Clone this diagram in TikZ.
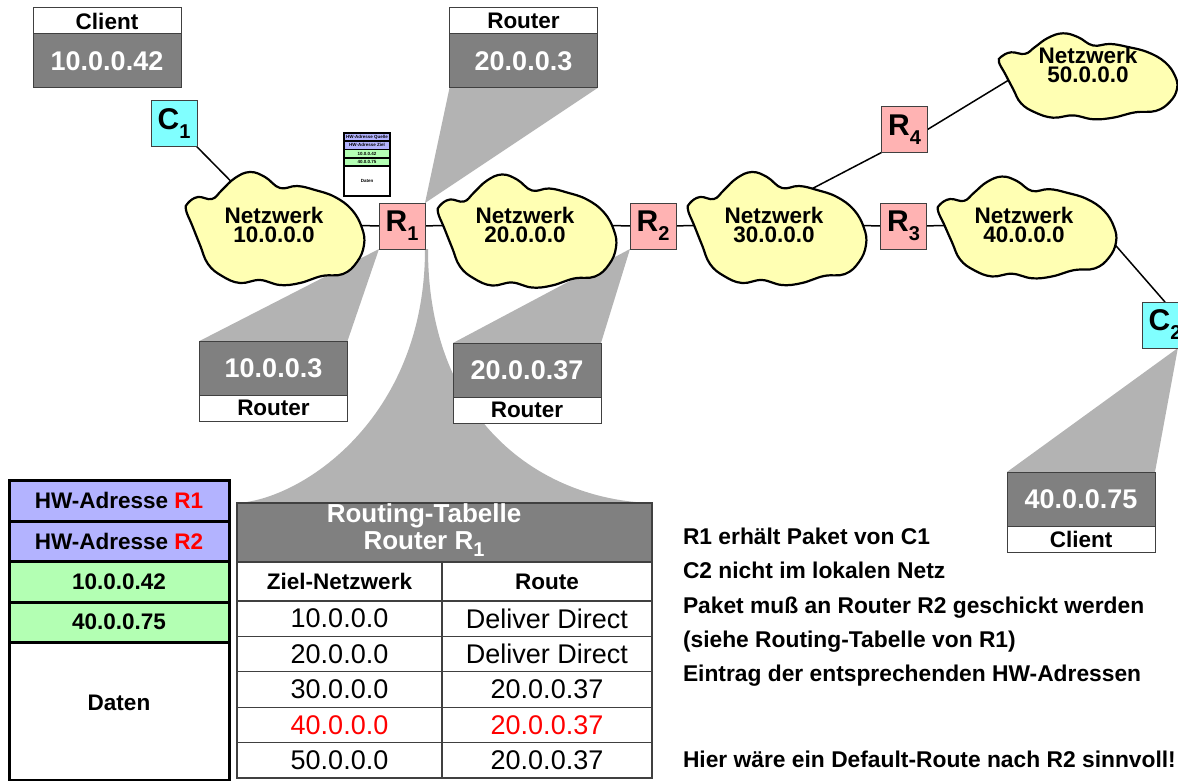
\documentclass[tikz,border=0pt]{standalone}
\usepackage{fontspec}
\setmainfont{Liberation Sans}
\usepackage{tikz}
\usetikzlibrary{positioning}
\usetikzlibrary{chains,calc,backgrounds}
\definecolor{rtpink}{RGB}{255,179,179}
\definecolor{clcyan}{RGB}{128,255,255}
\definecolor{netyellow}{RGB}{255,255,179}
\definecolor{hwblue}{RGB}{179,179,255}
\definecolor{ipgreen}{RGB}{179,255,179}
\definecolor{ipgray}{RGB}{128,128,128}
\definecolor{callgray}{RGB}{179,179,179}
\newcommand{\lowix}[1]{\raisebox{-0.3em}{\fontsize{20}{20}\selectfont #1}}

\begin{document}
\begin{tikzpicture}[x=1pt,y=-1pt,
  every node/.style={inner sep=0pt,outer sep=0pt},
  rtnode/.style={draw=black!75,line width=1,fill=rtpink,minimum width=46,minimum height=46,font=\fontsize{30}{30}\selectfont\bfseries},
  clnode/.style={rtnode,fill=clcyan},
  nettext/.style={align=center,font=\fontsize{22.5}{19.5}\selectfont\bfseries},
  ipbox/.style={draw=black!75,line width=1,fill=ipgray,text=white,minimum width=148,minimum height=54,font=\fontsize{27}{27}\selectfont\bfseries},
  tagbox/.style={draw=black!75,line width=1,fill=white,minimum width=148,minimum height=26,font=\fontsize{22.5}{22.5}\selectfont\bfseries},
  pkrow/.style={draw,line width=3,minimum width=220,font=\fontsize{22.5}{22.5}\selectfont\bfseries},
  minirow/.style={draw,line width=1.2,minimum width=46,font=\fontsize{4.5}{4.5}\selectfont\bfseries},
  cell/.style={draw=black!75,line width=1.2,minimum height=35.4,font=\fontsize{27}{27}\selectfont},
  headcell/.style={cell,minimum height=39,font=\fontsize{22.5}{22.5}\selectfont\bfseries},
  link/.style={line width=1.5},
  callout/.style={fill=callgray},
  netblob/.pic={\filldraw[fill=netyellow,draw=black,line width=2.2]
    plot[smooth cycle,tension=0.7] coordinates {(-87.5,-24.5) (-77.5,-30.5) (-63.5,-28.5) (-53.5,-37.5)
      (-40.5,-49.5) (-25.5,-55.5) (-10.5,-50.5) (4.5,-39.5) (21.5,-41.5) (39.5,-37.5) (59.5,-30.5)
      (76.5,-17.5) (86.5,0.5) (88.5,17.5) (81.5,34.5) (67.5,46.5) (46.5,48.5) (24.5,55.5) (4.5,57.5)
      (-15.5,52.5) (-35.5,55.5) (-53.5,48.5) (-67.5,36.5) (-75.5,17.5) (-83.5,-2.5) (-89.5,-17.5)};}]

\useasboundingbox (0,0) rectangle (1178,781);

% clients and routers
\node[clnode] (c1) at (174,123.5) {C\lowix{1}};
\node[rtnode] (r1) at (402,226) {R\lowix{1}};
\node[rtnode] (r2) at (653,226) {R\lowix{2}};
\node[rtnode] (r3) at (903.5,226) {R\lowix{3}};
\node[rtnode] (r4) at (904.5,129.5) {R\lowix{4}};
\node[clnode] (c2) at (1165,325) {C\lowix{2}};

% networks
\foreach \cx/\cy/\sy/\tx/\ty/\net [count=\i] in {275.5/227.5/1/274/225/10, 527.5/230/1/525/225/20,
    777.5/227.5/1/774/225/30, 1027.5/226.5/0.9/1024/225/40, 1088.5/75.5/0.76/1088/65/50} {
  \pic[yscale=\sy] at (\cx,\cy) {netblob};
  \node[nettext] (n\i) at (\tx,\ty) {Netzwerk\\\net.0.0.0};
}
\coordinate (n3a) at (800,195);
\coordinate (n4a) at (1090,216);
\coordinate (n5a) at (1040,61);

% address labels
\node[ipbox] (ipc1) at (107,61) {10.0.0.42};
\node[tagbox,above=0pt of ipc1] (tgc1) {Client};
\node[ipbox] (ipr1a) at (523.5,61) {20.0.0.3};
\node[tagbox,above=0pt of ipr1a] (tgr1a) {Router};
\node[ipbox] (ipr1b) at (273.5,368) {10.0.0.3};
\node[tagbox,below=0pt of ipr1b] (tgr1b) {Router};
\node[ipbox] (ipr2) at (527,370) {20.0.0.37};
\node[tagbox,below=0pt of ipr2] (tgr2) {Router};
\node[ipbox] (ipc2) at (1081,499) {40.0.0.75};
\node[tagbox,below=0pt of ipc2] (tgc2) {Client};

% packet at R1
\begin{scope}[start chain=going below,node distance=0pt]
  \node[minirow,on chain,fill=hwblue,minimum height=8] (mp1) at (367,137) {HW-Adresse Quelle};
  \node[minirow,on chain,fill=hwblue,minimum height=8.5] (mp2) {HW-Adresse Ziel};
  \node[minirow,on chain,fill=ipgreen,minimum height=8.5] (mp3) {10.0.0.42};
  \node[minirow,on chain,fill=ipgreen,minimum height=8] (mp4) {40.0.0.75};
  \node[minirow,on chain,fill=white,minimum height=30] (mp5) {Daten};
\end{scope}

\begin{scope}[start chain=going below,node distance=0pt]
  \node[pkrow,on chain,fill=hwblue,minimum height=41] (pk1) at (119,500.5) {HW-Adresse \textcolor{red}{R1}};
  \node[pkrow,on chain,fill=hwblue,minimum height=40] (pk2) {HW-Adresse \textcolor{red}{R2}};
  \node[pkrow,on chain,fill=ipgreen,minimum height=41] (pk3) {10.0.0.42};
  \node[pkrow,on chain,fill=ipgreen,minimum height=40] (pk4) {40.0.0.75};
  \node[pkrow,on chain,fill=white,minimum height=138,text height=16pt,text depth=18pt] (pk5) {Daten};
\end{scope}

% routing table of R1
\node[draw=black!75,line width=1.2,fill=ipgray,minimum width=415,minimum height=59] (rthead) at (444.5,532.5) {};
\node[text=white,align=center,font=\fontsize{26}{27}\selectfont\bfseries] (rttitle) at (424,530) {Routing-Tabelle\\Router R\lowix{1}};
\begin{scope}[start chain=going below,node distance=0pt]
  \node[headcell,on chain,minimum width=205] (zn0) at (339.5,581.5) {Ziel-Netzwerk};
  \foreach \net/\tc [count=\i] in {10/black,20/black,30/black,40/red,50/black}
    \node[cell,on chain,minimum width=205,text=\tc] (zn\i) {\net.0.0.0};
\end{scope}
\begin{scope}[start chain=going below,node distance=0pt]
  \node[headcell,on chain,minimum width=210] (rt0) at (547,581.5) {Route};
  \foreach \via/\tc [count=\i] in {Deliver Direct/black,Deliver Direct/black,20.0.0.37/black,20.0.0.37/red,20.0.0.37/black}
    \node[cell,on chain,minimum width=210,text=\tc] (rt\i) {\via};
\end{scope}

% notes
\node[anchor=north west,align=left,font=\fontsize{22.8}{34.3}\selectfont\bfseries] (notes) at (683,528)
  {R1 erhält Paket von C1\\C2 nicht im lokalen Netz\\Paket muß an Router R2 geschickt werden\\(siehe Routing-Tabelle von R1)\\Eintrag der entsprechenden HW-Adressen};
\node[anchor=base west,font=\fontsize{22.8}{22.8}\selectfont\bfseries] (hint) at (683,767) {Hier wäre ein Default-Route nach R2 sinnvoll!};

\begin{scope}[on background layer]
  \fill[callout] (r1.north east) -- (ipr1a.south west) -- (ipr1a.south east) -- cycle;
  \fill[callout] (r1.south west) -- (ipr1b.north west) -- (ipr1b.north east) -- cycle;
  \fill[callout] (r2.south west) -- (ipr2.north west) -- (ipr2.north east) -- cycle;
  \fill[callout] ($(c2.south west)!0.78!(c2.south east)$) -- (ipc2.north west) -- (ipc2.north east) -- cycle;
  \fill[callout] (r1.south east) .. controls +(0,171) and +(63,-3) .. (rthead.north west)
    -- (rthead.north east) .. controls +(-112,-3) and +(0,171) .. ([xshift=3pt]r1.south east) -- cycle;
  \draw[link] (c1) -- (n1);
  \draw[link] (n1) -- (r1) -- (n2) -- (r2) -- (n3) -- (r3) -- (n4);
  \draw[link] (r4.south west) -- (n3a);
  \draw[link] (r4.east) -- (n5a);
  \draw[link] (c2.north) -- (n4a);
\end{scope}
\end{tikzpicture}
\end{document}
